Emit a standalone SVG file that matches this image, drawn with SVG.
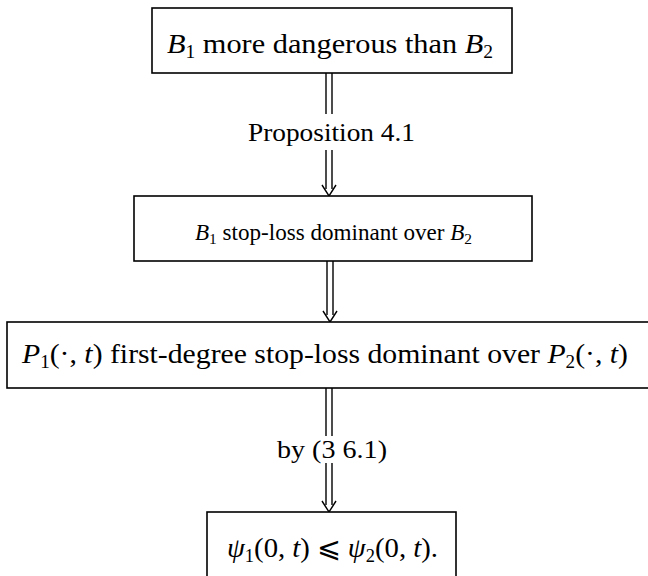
<svg xmlns="http://www.w3.org/2000/svg" width="648" height="576" viewBox="0 0 648 576">
<style>
.box{fill:#fff;stroke:#000;stroke-width:1.6}
.ln{fill:none;stroke:#000;stroke-width:1.4}
text{font-family:"Liberation Serif","Times New Roman",serif;font-size:28px;fill:#000}
.lbl{font-size:26px}
.sm{font-size:22.5px}
.i{font-style:italic}
.sub{font-size:18px}
.sm .sub{font-size:15px}
</style>
<rect width="648" height="576" fill="#fff"/>
<g id="connectors">
  <g id="c1">
    <path class="ln" d="M326,73V114M332,73V114M326,150V189M332,150V189"/>
    <path class="ln" d="M322,185L329,196L336,185"/>
    <text class="lbl" x="248" y="141" textLength="167" lengthAdjust="spacingAndGlyphs">Proposition 4.1</text>
  </g>
  <g id="c2">
    <path class="ln" d="M327,261V315M333,261V315"/>
    <path class="ln" d="M323,311L330,322L337,311"/>
  </g>
  <g id="c3">
    <path class="ln" d="M326,388V436M332,388V436M326,463V505M332,463V505"/>
    <path class="ln" d="M322,501L329,512L336,501"/>
    <text class="lbl" x="277" y="458" textLength="110" lengthAdjust="spacingAndGlyphs">by (3 6.1)</text>
  </g>
</g>
<g id="n1">
  <rect class="box" x="152" y="8" width="360" height="65"/>
  <text x="167" y="53" textLength="326" lengthAdjust="spacingAndGlyphs"><tspan class="i">B</tspan><tspan class="sub" dy="5">1</tspan><tspan dy="-5"> more dangerous than </tspan><tspan class="i">B</tspan><tspan class="sub" dy="5">2</tspan></text>
</g>
<g id="n2">
  <rect class="box" x="134" y="196" width="398" height="65"/>
  <text class="sm" x="195" y="240" textLength="277" lengthAdjust="spacingAndGlyphs"><tspan class="i">B</tspan><tspan class="sub" dy="4">1</tspan><tspan dy="-4"> stop-loss dominant over </tspan><tspan class="i">B</tspan><tspan class="sub" dy="4">2</tspan></text>
</g>
<g id="n3">
  <rect class="box" x="7" y="322" width="645" height="66"/>
  <text x="22" y="363" textLength="606" lengthAdjust="spacingAndGlyphs"><tspan class="i">P</tspan><tspan class="sub" dy="5">1</tspan><tspan dy="-5">(·, </tspan><tspan class="i">t</tspan><tspan>) first-degree stop-loss dominant over </tspan><tspan class="i">P</tspan><tspan class="sub" dy="5">2</tspan><tspan dy="-5">(·, </tspan><tspan class="i">t</tspan><tspan>)</tspan></text>
</g>
<g id="n4">
  <rect class="box" x="207" y="512" width="249" height="80"/>
  <text x="227" y="557" textLength="211" lengthAdjust="spacingAndGlyphs"><tspan class="i">ψ</tspan><tspan class="sub" dy="5">1</tspan><tspan dy="-5">(0, </tspan><tspan class="i">t</tspan><tspan>) ⩽ </tspan><tspan class="i">ψ</tspan><tspan class="sub" dy="5">2</tspan><tspan dy="-5">(0, </tspan><tspan class="i">t</tspan><tspan>).</tspan></text>
</g>
</svg>
